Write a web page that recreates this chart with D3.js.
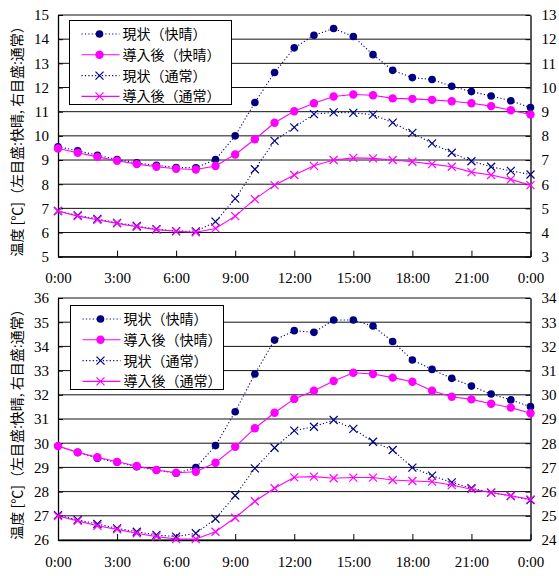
<!DOCTYPE html>
<html lang="ja">
<head>
<meta charset="UTF-8">
<title>温度</title>
<script src="https://d3js.org/d3.v7.min.js"></script>
<style>
  body { margin: 0; background: #fff; }
  svg text { font-family: "Liberation Serif", "DejaVu Serif", serif; }
  .jp { font-family: "Noto Sans CJK JP", "Noto Sans CJK SC", sans-serif; }
</style>
</head>
<body>
<svg width="559" height="576"></svg>
<script>
// hours of the day (x categories)
const hours = [0,1,2,3,4,5,6,7,8,9,10,11,12,13,14,15,16,17,18,19,20,21,22,23,24];
const xTickHours = [0, 3, 6, 9, 12, 15, 18, 21, 24];
const xTickLabels = ["0:00","3:00","6:00","9:00","12:00","15:00","18:00","21:00","0:00"];

const seriesNames = ["現状（快晴）", "導入後（快晴）", "現状（通常）", "導入後（通常）"];

// top panel (winter): 快晴 on left axis, 通常 on right axis
const topNowClear   = [9.55,9.38,9.20,9.02,8.88,8.78,8.69,8.68,9.02,10.0,11.38,12.62,13.64,14.16,14.44,14.11,13.36,12.71,12.41,12.33,12.05,11.83,11.65,11.45,11.17];
const topAfterClear = [9.48,9.30,9.13,8.97,8.83,8.72,8.64,8.61,8.75,9.23,9.86,10.54,11.02,11.35,11.63,11.71,11.68,11.55,11.53,11.49,11.43,11.35,11.23,11.06,10.88];
const topNowNormal  = [4.89,4.71,4.56,4.40,4.27,4.14,4.06,4.05,4.45,5.40,6.62,7.79,8.35,8.90,8.97,8.95,8.88,8.55,8.12,7.69,7.30,6.95,6.72,6.55,6.40];
const topAfterNormal= [4.89,4.68,4.53,4.38,4.24,4.12,4.05,4.01,4.17,4.68,5.38,5.96,6.38,6.76,7.00,7.09,7.07,7.00,6.93,6.83,6.72,6.50,6.38,6.20,5.96];

// bottom panel (summer)
const botNowClear   = [29.88,29.62,29.38,29.21,29.03,28.89,28.76,28.99,29.90,31.30,32.86,34.26,34.65,34.58,35.09,35.09,34.84,34.20,33.44,33.05,32.68,32.36,32.03,31.79,31.51];
const botAfterClear = [29.88,29.62,29.42,29.23,29.06,28.89,28.78,28.82,29.19,29.85,30.62,31.26,31.83,32.17,32.57,32.91,32.86,32.71,32.54,32.17,31.92,31.81,31.63,31.47,31.24];
const botNowNormal  = [25.03,24.83,24.66,24.48,24.34,24.21,24.14,24.28,24.88,25.84,26.96,27.81,28.52,28.68,28.96,28.59,28.06,27.72,26.99,26.66,26.38,26.14,25.96,25.82,25.65];
const botAfterNormal= [24.99,24.79,24.59,24.44,24.28,24.14,24.04,24.04,24.34,24.92,25.60,26.14,26.59,26.62,26.55,26.58,26.58,26.48,26.44,26.41,26.27,26.10,25.96,25.83,25.68];

const leftTop = [5,6,7,8,9,10,11,12,13,14,15];
const rightTop = [3,4,5,6,7,8,9,10,11,12,13];
const leftBot = [26,27,28,29,30,31,32,33,34,35,36];
const rightBot = [24,25,26,27,28,29,30,31,32,33,34];

const svg = d3.select("svg");
const navy = "#000080", pink = "#ff00ff";
const x = d3.scaleLinear().domain([0, 24]).range([58, 530.5]);

function panel(p) {
  const yL = d3.scaleLinear().domain([p.leftTicks[0], p.leftTicks[p.leftTicks.length-1]]).range([p.bottom, p.top]);
  const yR = d3.scaleLinear().domain([p.rightTicks[0], p.rightTicks[p.rightTicks.length-1]]).range([p.bottom, p.top]);
  const g = svg.append("g");

  // horizontal grid lines
  g.selectAll(".grid").data(p.leftTicks).enter().append("line")
    .attr("x1", x(0)).attr("x2", x(24))
    .attr("y1", d => yL(d)).attr("y2", d => yL(d))
    .attr("stroke", "#111").attr("stroke-width", 1);

  // axes
  const ax = g.append("g").attr("transform", `translate(0,${p.bottom})`)
    .call(d3.axisBottom(x).tickValues(xTickHours).tickSizeInner(-6).tickSizeOuter(0).tickPadding(16)
      .tickFormat((d, i) => xTickLabels[i]));
  const al = g.append("g").attr("transform", `translate(${x(0)},0)`)
    .call(d3.axisLeft(yL).tickValues(p.leftTicks).tickSizeInner(-5).tickSizeOuter(0).tickPadding(9));
  const ar = g.append("g").attr("transform", `translate(${x(24)},0)`)
    .call(d3.axisRight(yR).tickValues(p.rightTicks).tickSizeInner(-5).tickSizeOuter(0).tickPadding(11));
  [ax, al, ar].forEach(a => {
    a.selectAll(".domain").attr("stroke", "#000").attr("stroke-width", 1.3);
    a.selectAll(".tick line").attr("stroke", "#000");
    a.selectAll("text").attr("font-family", "Liberation Serif").attr("font-size", 15).attr("fill", "#000");
  });

  const line = y => d3.line().x((d, i) => x(hours[i])).y(d => y(d));
  const series = [
    {vals: p.nowClear, y: yL, color: navy, dash: "1.2,2.2", mark: "dot", r: 3.8},
    {vals: p.afterClear, y: yL, color: pink, dash: null, mark: "dot", r: 4.2},
    {vals: p.nowNormal, y: yR, color: navy, dash: "1.2,2.2", mark: "x"},
    {vals: p.afterNormal, y: yR, color: pink, dash: null, mark: "x"}
  ];
  series.forEach(s => {
    g.append("path").datum(s.vals).attr("d", line(s.y))
      .attr("fill", "none").attr("stroke", s.color).attr("stroke-width", 1.1)
      .attr("stroke-dasharray", s.dash);
    drawMarks(g, s.vals.map((v, i) => [x(hours[i]), s.y(v)]), s);
  });

  // legend
  const lg = g.append("g").attr("transform", `translate(${p.legend[0]},${p.legend[1]})`);
  lg.append("rect").attr("width", p.legend[2]).attr("height", 84)
    .attr("fill", "#fff").attr("stroke", "#000").attr("stroke-width", 1);
  series.forEach((s, i) => {
    const yy = 13.5 + i * 20.8;
    lg.append("line").attr("x1", 12).attr("x2", 50).attr("y1", yy).attr("y2", yy)
      .attr("stroke", s.color).attr("stroke-width", 1.1).attr("stroke-dasharray", s.dash);
    drawMarks(lg, [[30, yy]], s);
    lg.append("text").attr("class", "jp").attr("x", 53).attr("y", yy + 5)
      .attr("font-size", 14).attr("fill", "#000").text(seriesNames[i]);
  });

  // y title
  svg.append("text").attr("class", "jp")
    .attr("transform", `translate(22,${(p.top + p.bottom) / 2 + 2}) rotate(-90)`)
    .attr("text-anchor", "middle").attr("font-size", 14).attr("fill", "#000")
    .text("温度 [℃]（左目盛:快晴, 右目盛:通常）");
}

function drawMarks(g, pts, s) {
  if (s.mark === "dot") {
    g.selectAll(null).data(pts).enter().append("circle")
      .attr("cx", d => d[0]).attr("cy", d => d[1]).attr("r", s.r).attr("fill", s.color);
  } else {
    const k = 4;
    g.selectAll(null).data(pts).enter().append("path")
      .attr("d", d => `M${d[0]-k},${d[1]-k}L${d[0]+k},${d[1]+k}M${d[0]-k},${d[1]+k}L${d[0]+k},${d[1]-k}`)
      .attr("stroke", s.color).attr("stroke-width", 1.2).attr("fill", "none");
  }
}

panel({top: 15, bottom: 256.7, leftTicks: leftTop, rightTicks: rightTop,
  nowClear: topNowClear, afterClear: topAfterClear, nowNormal: topNowNormal, afterNormal: topAfterNormal,
  legend: [69.5, 20.5, 162]});
panel({top: 298, bottom: 540, leftTicks: leftBot, rightTicks: rightBot,
  nowClear: botNowClear, afterClear: botAfterClear, nowNormal: botNowNormal, afterNormal: botAfterNormal,
  legend: [70.5, 305.5, 153]});
</script>
</body>
</html>
